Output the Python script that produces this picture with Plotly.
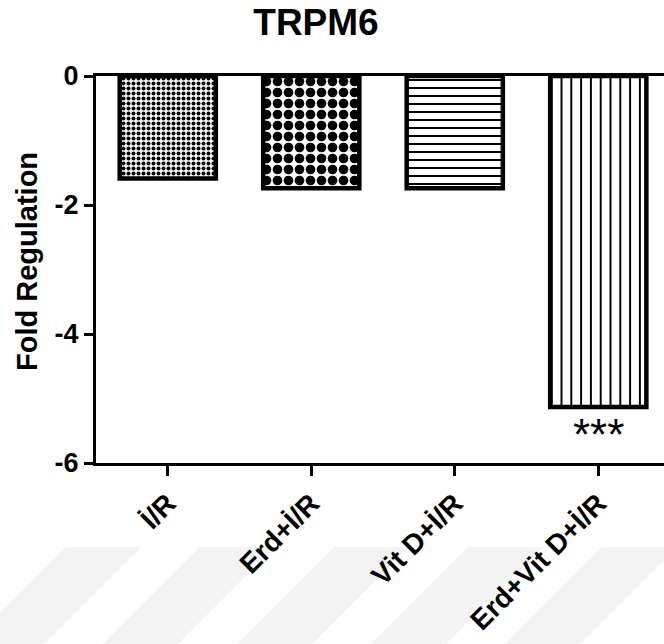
import plotly.graph_objects as go

# ---- data ----
categories = ["İ/R", "Erd+İ/R", "Vit D+İ/R", "Erd+Vit D+İ/R"]
fold_regulation = [-1.59, -1.74, -1.74, -5.13]
significance = ["", "", "", "***"]
y_ticks = [0, -2, -4, -6]

# ---- styles ----
pattern_shapes = [".", ".", "-", "|"]
pattern_sizes = [5, 11, 8, 9.8]
pattern_solidity = [0.5, 0.6, 0.25, 0.2]
FONT = "Liberation Sans, Arial, sans-serif"

W, H = 664, 644
ML, MR, MT, MB = 96, 0, 76, 181
PW, PH = W - ML - MR, H - MT - MB

fig = go.Figure()
fig.add_trace(go.Bar(
    x=categories,
    y=fold_regulation,
    width=0.67,
    marker=dict(
        color="white",
        line=dict(color="black", width=4.5),
        pattern=dict(shape=pattern_shapes, size=pattern_sizes,
                     solidity=pattern_solidity, fgcolor="black",
                     bgcolor="white", fillmode="replace"),
    ),
    showlegend=False,
    hoverinfo="skip",
))

for cat, val, sig in zip(categories, fold_regulation, significance):
    if sig:
        fig.add_annotation(x=cat, y=val, text=sig, showarrow=False,
                           yanchor="top", yshift=-1,
                           font=dict(family=FONT, size=44, color="black"))

# y-axis title as annotation
fig.add_annotation(xref="paper", yref="paper",
                   x=(26.5 - ML) / PW, y=(H - MB - 261.5) / PH,
                   text="<b>Fold Regulation</b>", textangle=-90,
                   showarrow=False, xanchor="center", yanchor="middle",
                   font=dict(family=FONT, size=29, color="black"))

# faint diagonal watermark stripes (background decoration)
def px_to_paper(xp, yp):
    return (xp - ML) / PW, (H - MB - yp) / PH

shapes = []
top_y, bot_y = 547, 650
for left in [66, 200, 334, 468, 602]:
    pts = [(left, top_y), (left + 75, top_y),
           (left + 75 - (bot_y - top_y), bot_y), (left - (bot_y - top_y), bot_y)]
    pp = [px_to_paper(a, b) for a, b in pts]
    path = "M " + " L ".join(f"{a:.4f},{b:.4f}" for a, b in pp) + " Z"
    shapes.append(dict(type="path", xref="paper", yref="paper", path=path,
                       fillcolor="#f3f3f3", line=dict(width=0), layer="below"))

fig.update_layout(
    width=W, height=H,
    margin=dict(l=ML, r=MR, t=MT, b=MB, pad=0),
    paper_bgcolor="white", plot_bgcolor="rgba(0,0,0,0)",
    title=dict(text="<b>TRPM6</b>", x=316 / W, xref="container",
               y=1 - 22 / H, yref="container", xanchor="center", yanchor="middle",
               font=dict(family=FONT, size=37, color="black")),
    shapes=shapes,
    xaxis=dict(
        type="category", range=[-0.5, 3.458],
        showline=True, linecolor="black", linewidth=3, mirror=True,
        ticks="outside", ticklen=10, tickwidth=3, tickcolor="black",
        tickangle=-45, showgrid=False, zeroline=False,
        tickfont=dict(family=FONT, size=28, color="black", weight="bold"),
    ),
    yaxis=dict(
        range=[-6, 0], tickvals=y_ticks, ticktext=[str(v) for v in y_ticks],
        showline=True, linecolor="black", linewidth=3,
        ticks="outside", ticklen=9, tickwidth=3, tickcolor="black",
        showgrid=False, zeroline=False,
        tickfont=dict(family=FONT, size=27, color="black", weight="bold"),
    ),
)

fig.write_html(
    "out.html",
    config={"displayModeBar": False, "staticPlot": True},
    post_script="document.body.style.margin='0';document.body.style.padding='0';"
                "document.body.style.overflow='hidden';",
)
